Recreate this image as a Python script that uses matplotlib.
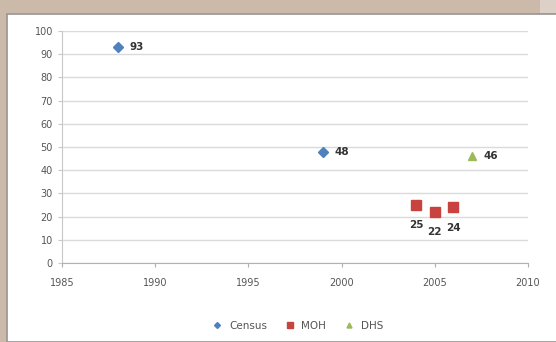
import matplotlib
matplotlib.use('Agg')
import matplotlib.pyplot as plt
from matplotlib.patches import Rectangle

census_years = [1988, 1999]
census_vals = [93, 48]
moh_years = [2004, 2005, 2006]
moh_vals = [25, 22, 24]
dhs_years = [2007]
dhs_vals = [46]

fig = plt.figure(figsize=(5.56, 3.42), dpi=100)
fig.patch.set_facecolor('#cbb9aa')
# white chart area inside the tan frame
fig.patches.append(Rectangle((7 / 556, 0), 1, 1 - 14 / 342, transform=fig.transFigure,
                             facecolor='white', edgecolor='#9a9490', linewidth=1.2, zorder=-2))
fig.patches.append(Rectangle((540 / 556, 1 - 13 / 342), 1, 13 / 342, transform=fig.transFigure,
                             facecolor='#ddd0c6', edgecolor='none', zorder=-2))

ax = fig.add_axes([62 / 556, 1 - 263 / 342, (528 - 62) / 556, (263 - 31) / 342])
ax.set_zorder(3)
ax.set_facecolor('none')

ax.plot(census_years, census_vals, 'D', color='#4F81BD', markersize=5, label='Census')
ax.plot(moh_years, moh_vals, 's', color='#C8423F', markersize=7.5, label='MOH')
ax.plot(dhs_years, dhs_vals, '^', color='#9BBB59', markersize=6, label='DHS')

for x, y in zip(census_years, census_vals):
    ax.annotate(str(y), (x, y), xytext=(8, 0), textcoords='offset points',
                va='center', ha='left', fontsize=7.5, fontweight='bold', color='#333333')
for x, y in zip(dhs_years, dhs_vals):
    ax.annotate(str(y), (x, y), xytext=(8, 0), textcoords='offset points',
                va='center', ha='left', fontsize=7.5, fontweight='bold', color='#333333')
for x, y in zip(moh_years, moh_vals):
    ax.annotate(str(y), (x, y), xytext=(0, -11), textcoords='offset points',
                va='top', ha='center', fontsize=7.5, fontweight='bold', color='#333333')

ax.set_xlim(1985, 2010)
ax.set_ylim(0, 100)
ax.set_xticks(range(1985, 2011, 5))
ax.set_yticks(range(0, 101, 10))
ax.yaxis.grid(True, color='#dadada', linewidth=1)
ax.set_axisbelow(True)
for s in ['top', 'right']:
    ax.spines[s].set_visible(False)
ax.spines['left'].set_color('#c8c8c8')
ax.spines['bottom'].set_color('#b0b0b0')
ax.tick_params(axis='both', labelsize=7, colors='#555555', length=3)
ax.tick_params(axis='x', pad=8, color='#b0b0b0')
ax.tick_params(axis='y', color='#c8c8c8')

ax.legend(loc='upper center', bbox_to_anchor=(0.5, -0.21), ncol=3, frameon=False,
          fontsize=7.5, handletextpad=0.1, columnspacing=1.2, markerscale=0.6,
          labelcolor='#555555')

fig.savefig('out.png', dpi=100, facecolor=fig.get_facecolor())
